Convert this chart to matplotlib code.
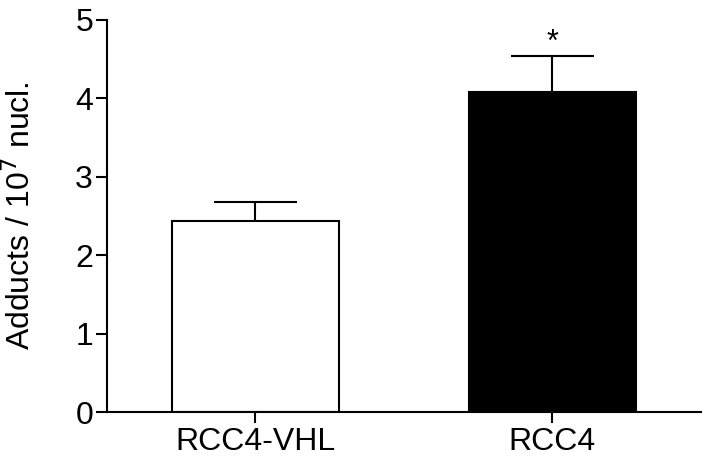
import matplotlib
matplotlib.use("Agg")
import matplotlib.pyplot as plt

groups = ["RCC4-VHL", "RCC4"]
means = [2.43, 4.08]
errs = [0.25, 0.46]
colors = ["white", "black"]
star_y = 4.52

plt.rcParams['font.family'] = ['Liberation Sans', 'DejaVu Sans']

fig = plt.figure(figsize=(7.08, 4.61), dpi=100)
ax = fig.add_axes([0.151, 0.106, 0.839, 0.851])

x = range(len(groups))
ax.bar(x, means, width=0.56, color=colors, edgecolor="black", linewidth=1.5,
       yerr=[[0, 0], errs], capsize=0, error_kw=dict(elinewidth=1.5, ecolor="black"),
       zorder=2)
# caps drawn manually as half-width lines
for i, (m, e) in enumerate(zip(means, errs)):
    ax.hlines(m + e, i - 0.14, i + 0.14, color="black", linewidth=1.5)
ax.text(1, star_y, "*", ha="center", va="bottom", fontsize=22)

ax.set_xlim(-0.5, 1.5)
ax.set_ylim(0, 5)
ax.set_yticks([0, 1, 2, 3, 4, 5])
ax.set_xticks(list(x))
ax.set_xticklabels(groups)
ax.set_ylabel("Adducts / 10$^7$ nucl.", fontsize=23)
ax.yaxis.set_label_coords(-0.117, 0.5)
ax.tick_params(axis="both", labelsize=23, width=1.5, length=8, color="black", pad=2)
ax.tick_params(axis="x", length=8, pad=3)
for s in ["top", "right"]:
    ax.spines[s].set_visible(False)
for s in ["left", "bottom"]:
    ax.spines[s].set_linewidth(1.5)

fig.savefig("out.png", dpi=100)
